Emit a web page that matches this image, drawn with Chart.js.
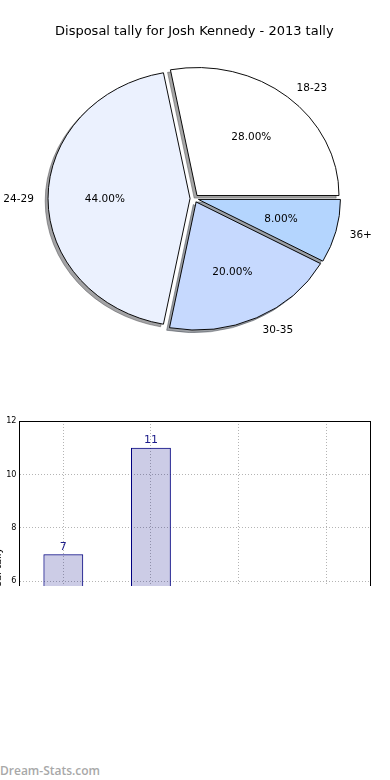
<!DOCTYPE html>
<html>
<head>
<meta charset="utf-8">
<script src="https://cdn.jsdelivr.net/npm/chart.js@4"></script>
<style>
  body { margin: 0; width: 390px; height: 780px; background: #fff; overflow: hidden; position: relative; }
  #pie { position: absolute; left: 0; top: 0; }
  #barBox { position: absolute; left: 0; top: 400px; width: 390px; height: 186px; overflow: hidden; }
  #bar { position: absolute; left: -8px; top: 0; }
  #mark { position: absolute; left: 0; top: 762px; font: 600 12px "Open Sans"; color: #a8a8a8; }
</style>
</head>
<body>
<canvas id="pie" width="390" height="370"></canvas>
<div id="barBox"><canvas id="bar" width="400" height="371"></canvas></div>
<div id="mark">Dream-Stats.com</div>
<script>
var categories = ['18-23', '24-29', '30-35', '36+'];
var tally = [7, 11, 5, 2];
var sliceColors = ['#ffffff', '#ebf1fe', '#c6d9fe', '#b4d5fe'];
var yTicks = [0, 2, 4, 6, 8, 10, 12];

var explode = 0.03;     // fraction of radius
var squash = 128 / 142; // pie is drawn a bit flat, like the original

Chart.defaults.font.family = 'DejaVu Sans';
Chart.defaults.color = '#000';

var total = tally.reduce((a, b) => a + b, 0);

// matplotlib goes counter clockwise from 3 o'clock, chart.js goes clockwise -> reverse
var pieLabels = categories.slice().reverse();
var pieValues = tally.slice().reverse();
var pieColors = sliceColors.slice().reverse();

function shade(hex) {
    var n = parseInt(hex.slice(1), 16);
    var r = Math.round(((n >> 16) & 255) * 0.3);
    var g = Math.round(((n >> 8) & 255) * 0.3);
    var b = Math.round((n & 255) * 0.3);
    return 'rgba(' + r + ',' + g + ',' + b + ',0.5)';
}

var pieDraw = {
    id: 'pieDraw',
    beforeDatasetsDraw(chart) {
        var ctx = chart.ctx;
        var arcs = chart.getDatasetMeta(0).data;
        var cx = arcs[0].x, cy = arcs[0].y, r = arcs[0].outerRadius;
        var push = explode * r;
        ['shadow', 'wedge'].forEach(function (pass) {
            arcs.forEach(function (arc) {
                var mid = (arc.startAngle + arc.endAngle) / 2;
                ctx.save();
                ctx.translate(cx, cy);
                ctx.scale(1, squash);
                ctx.translate(-cx, -cy);
                ctx.translate(Math.cos(mid) * push, Math.sin(mid) * push);
                if (pass == 'shadow') {
                    ctx.translate(-1000, 0);
                    ctx.shadowColor = shade(arc.options.backgroundColor);
                    ctx.shadowOffsetX = 1000 - 0.02 * r;
                    ctx.shadowOffsetY = 0.02 * r * squash;
                    ctx.shadowBlur = 0;
                }
                arc.draw(ctx);
                ctx.restore();
            });
        });
        return false;
    },
    afterDraw(chart) {
        var ctx = chart.ctx;
        var arcs = chart.getDatasetMeta(0).data;
        ctx.save();
        ctx.fillStyle = '#000';
        ctx.font = '10.5px "DejaVu Sans"';
        ctx.textBaseline = 'middle';
        arcs.forEach(function (arc, i) {
            var r = arc.outerRadius;
            var mid = (arc.startAngle + arc.endAngle) / 2;
            var c = Math.cos(mid), s = Math.sin(mid);
            var d1 = explode * r + 1.1 * r;
            var d2 = explode * r + 0.6 * r;
            // nudge down a little, matplotlib centres on the ink box
            ctx.textAlign = c > 0 ? 'left' : 'right';
            ctx.fillText(pieLabels[i], arc.x + c * d1, arc.y + s * d1 * squash + 1);
            ctx.textAlign = 'center';
            var pct = (pieValues[i] / total * 100).toFixed(2) + '%';
            ctx.fillText(pct, arc.x + c * d2, arc.y + s * d2 * squash + 1);
        });
        ctx.restore();
    }
};

new Chart(document.getElementById('pie'), {
    type: 'pie',
    data: {
        labels: pieLabels,
        datasets: [{
            data: pieValues,
            backgroundColor: pieColors,
            borderColor: '#000',
            borderWidth: 1,
            borderJoinStyle: 'miter'
        }]
    },
    options: {
        responsive: false,
        animation: false,
        rotation: 90,
        radius: 142,
        layout: { padding: { top: 0, left: 0, right: 1.4, bottom: 12.4 } },
        plugins: {
            legend: { display: false },
            tooltip: { enabled: false },
            title: {
                display: true,
                text: 'Disposal tally for Josh Kennedy - 2013 tally',
                color: '#000',
                font: { size: 13, weight: 'normal' },
                padding: { top: 23.8, bottom: 0 }
            }
        }
    },
    plugins: [pieDraw]
});

var barExtras = {
    id: 'barExtras',
    afterDatasetsDraw(chart) {
        var ctx = chart.ctx;
        ctx.save();
        ctx.fillStyle = '#1c1c8a';
        ctx.font = '11px "DejaVu Sans"';
        ctx.textAlign = 'center';
        ctx.textBaseline = 'bottom';
        chart.getDatasetMeta(0).data.forEach(function (bar, i) {
            ctx.fillText(tally[i], bar.x, bar.y - 2);
        });
        ctx.restore();
    },
    afterDraw(chart) {
        var a = chart.chartArea;
        var ctx = chart.ctx;
        ctx.save();
        ctx.strokeStyle = '#000';
        ctx.lineWidth = 1;
        ctx.strokeRect(Math.floor(a.left) + 0.5, Math.floor(a.top) + 0.5,
            Math.round(a.right - a.left), Math.round(a.bottom - a.top));
        ctx.restore();
    }
};

new Chart(document.getElementById('bar'), {
    type: 'bar',
    data: {
        labels: categories,
        datasets: [{
            data: tally,
            backgroundColor: 'rgba(0,0,128,0.2)',
            borderColor: '#000080',
            borderWidth: 1,
            borderSkipped: false,
            barPercentage: 0.455,
            categoryPercentage: 1
        }]
    },
    options: {
        responsive: false,
        animation: false,
        layout: { padding: { top: 21, right: 22, left: 0, bottom: 0 } },
        plugins: { legend: { display: false }, tooltip: { enabled: false } },
        scales: {
            x: {
                offset: true,
                grid: { offset: false, color: '#b4b4b4', drawTicks: false },
                border: { display: false, dash: [1, 2] },
                ticks: { font: { size: 9 }, padding: 4 },
                afterFit: function (s) { s.height = 30; }
            },
            y: {
                min: 0,
                max: 12,
                afterBuildTicks: function (s) { s.ticks = yTicks.map(v => ({ value: v })); },
                grid: { color: '#b4b4b4', drawTicks: false },
                border: { display: false, dash: [1, 2] },
                ticks: { padding: 3, font: { family: 'DejaVu Sans Condensed', size: 9 } },
                title: { display: true, text: 'Disposal tally', padding: 0, font: { size: 10 } },
                afterFit: function (s) { s.width = 27.5; }
            }
        }
    },
    plugins: [barExtras]
});
</script>
</body>
</html>
